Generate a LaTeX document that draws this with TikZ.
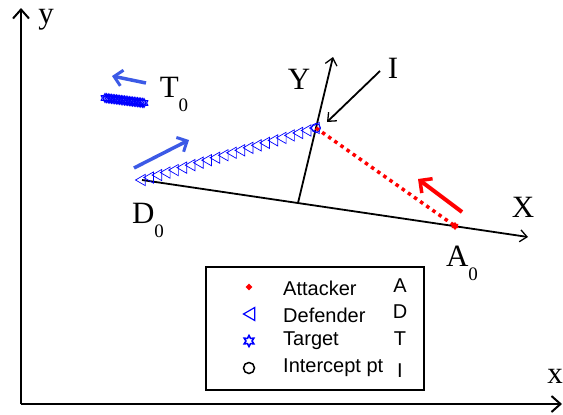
\documentclass[tikz,border=0pt]{standalone}
\usepackage{fontspec}
\setmainfont{Liberation Serif}
\setsansfont{Liberation Sans}
\usetikzlibrary{arrows.meta,shapes.geometric,calc}
\tikzset{
  axis/.style={line width=2.4pt,-{Straight Barb[length=9pt,width=16pt,line width=2pt]}},
  laxis/.style={line width=1.8pt,-{Straight Barb[length=7pt,width=12pt,line width=1.3pt]}},
  lbl/.style={font=\fontsize{31}{31}\selectfont, inner sep=0pt},
  legtxt/.style={font=\sffamily\fontsize{20}{20}\selectfont, inner sep=0pt, anchor=west},
  legltr/.style={font=\sffamily\fontsize{20}{20}\selectfont, inner sep=0pt},
  deftri/.style={regular polygon, regular polygon sides=3, draw=blue, line width=0.7pt, minimum size=13pt, inner sep=0pt, rotate=90},
  tgtstar/.style={star, star points=6, star point ratio=1.7, draw=blue, line width=1pt, minimum size=9pt, inner sep=0pt},
  bluearrow/.style={draw={rgb,255:red,60;green,90;blue,230}, line width=3.5pt, -{Straight Barb[length=8pt,width=16pt,line width=3pt]}},
  redarrow/.style={draw=red, line width=4pt, -{Straight Barb[length=9pt,width=18pt,line width=3.5pt]}},
}
\newcommand{\sub}[1]{\raisebox{-0.45em}{\fontsize{19}{19}\selectfont #1}}
\begin{document}
\begin{tikzpicture}[x=1pt,y=-1pt]
\useasboundingbox (0,0) rectangle (563,415);
% main axes
\coordinate (O) at (21,404);
\coordinate (yend) at (21,8);
\coordinate (xend) at (562,404);
\draw[axis] (O) -- (yend);
\draw[axis] (O) -- (xend);
\node[lbl] (ylbl) at (46,20) {y};
\node[lbl] (xlbl) at (555,376) {x};
% local frame
\coordinate (D0) at (142,180);
\coordinate (Xend) at (528,237);
\coordinate (Yfoot) at (298,203);
\coordinate (Yend) at (333,57);
\coordinate (I) at (316,128);
\coordinate (A0) at (455,226);
\draw[laxis] (D0) -- (Xend);
\draw[laxis] (Yfoot) -- (Yend);
\node[lbl] (Xl) at (523,207) {X};
\node[lbl] (Yl) at (299,79) {Y};
\node[lbl] (Il) at (393,68) {I};
\coordinate (Itail) at (380,71);
\coordinate (Ihead) at (327,122);
\draw[laxis] (Itail) -- (Ihead);
% defender trajectory
\foreach \t in {0,...,21}{
  \node[deftri] at ($(D0)!\t/21!(I)$) {};
}
\node[circle, draw=blue, line width=0.9pt, minimum size=9pt, inner sep=0pt] (Icirc) at (I) {};
% attacker trajectory
\draw[red, line width=3.5pt, dash pattern=on 3.5pt off 4pt] (I) -- (A0);
\node[star, star points=6, fill=red, minimum size=8pt, inner sep=0pt] (A0m) at (A0) {};
% target
\foreach \t in {0,...,24}{
  \node[tgtstar] at ($(105,98)!\t/24!(144,103)$) {};
}
% motion arrows
\coordinate (tTail) at (146,83);
\coordinate (tHead) at (112,76);
\draw[bluearrow] (tTail) -- (tHead);
\coordinate (dTail) at (134,168);
\coordinate (dHead) at (189,140);
\draw[bluearrow] (dTail) -- (dHead);
\coordinate (aTail) at (462,212);
\coordinate (aHead) at (418,179);
\draw[redarrow] (aTail) -- (aHead);
% labels
\node[lbl] (T0) at (174,94) {T\sub{0}};
\node[lbl] (D0l) at (148,220) {D\sub{0}};
\node[lbl] (A0l) at (462,263) {A\sub{0}};
% legend
\node[draw, line width=2pt, minimum width=218pt, minimum height=123pt, inner sep=0pt] (leg) at (315,328.5) {};
\node[diamond, fill=red, minimum size=7pt, inner sep=0pt] (m1) at (249,287) {};
\node[regular polygon, regular polygon sides=3, draw=blue, line width=1.2pt, minimum size=15pt, inner sep=0pt, rotate=90] (m2) at (251,314) {};
\node[star, star points=6, star point ratio=1.8, draw=blue, line width=1.6pt, minimum size=11pt, inner sep=0pt] (m3) at (249,341) {};
\node[circle, draw=black, line width=1.5pt, minimum size=11pt, inner sep=0pt] (m4) at (249,368) {};
\node[legtxt] (t1) at (283,288) {Attacker};
\node[legtxt] (t2) at (283,315) {Defender};
\node[legtxt] (t3) at (283,341) {Target};
\node[legtxt] (t4) at (283,368) {Intercept pt};
\node[legltr] (l1) at (400,286) {A};
\node[legltr] (l2) at (400,312) {D};
\node[legltr] (l3) at (400,339) {T};
\node[legltr] (l4) at (400,371) {I};
\end{tikzpicture}
\end{document}
